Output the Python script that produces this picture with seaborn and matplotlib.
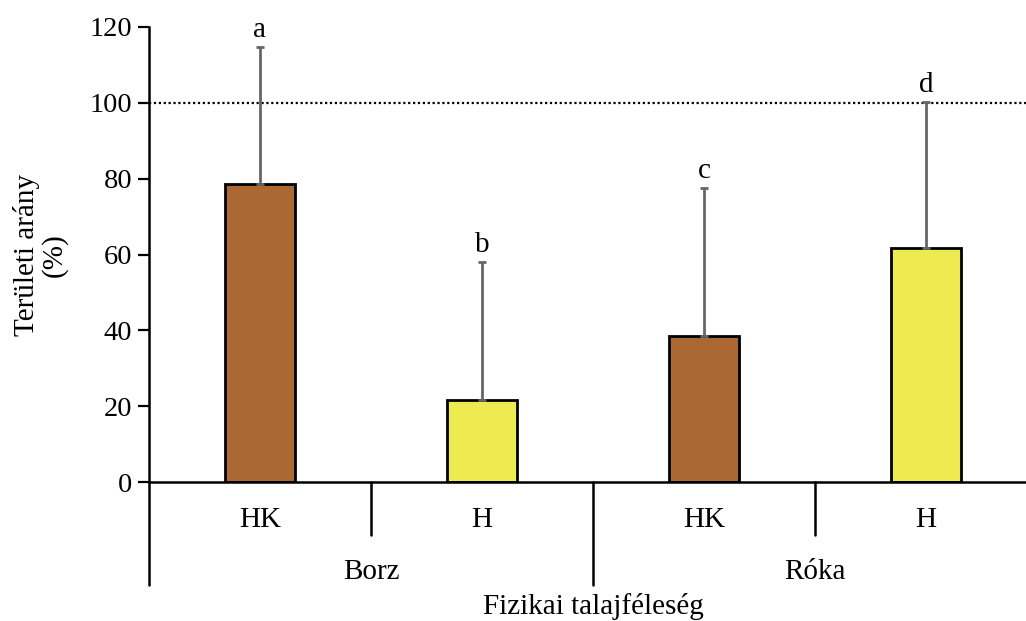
import pandas as pd
import seaborn as sns
import matplotlib.pyplot as plt
import matplotlib.transforms as mtransforms
from matplotlib.lines import Line2D

# data
animals = ["Borz", "Borz", "Róka", "Róka"]
soils = ["HK", "H", "HK", "H"]
means = [78.5, 21.6, 38.5, 61.7]
sd_upper = [36.3, 36.4, 39.1, 38.6]
letters = ["a", "b", "c", "d"]
colors = {"HK": "#AB6833", "H": "#EDEB4F"}

sns.set_theme(style="white")
plt.rcParams['font.family'] = ['Liberation Serif', 'DejaVu Serif']
plt.rcParams['text.color'] = 'black'

df = pd.DataFrame({"animal": animals, "soil": soils, "value": means})
df["cat"] = [f"{a} {s}" for a, s in zip(animals, soils)]

fig = plt.figure(figsize=(10.26, 6.21), dpi=100)
ax = fig.add_axes([149 / 1026, 139 / 621, 888 / 1026, 455 / 621])

sns.barplot(data=df, x="cat", y="value", hue="soil", palette=colors,
            width=0.315, dodge=False, saturation=1, edgecolor="black",
            linewidth=2, legend=False, ax=ax)

xs = range(len(means))
ax.errorbar(xs, means, yerr=[[0] * len(means), sd_upper], fmt="none",
            ecolor="#666666", elinewidth=2, capsize=3, capthick=2, zorder=1)
for x, m, e, lab in zip(xs, means, sd_upper, letters):
    ax.annotate(lab, (x, m + e), xytext=(0, 3), textcoords="offset points",
                ha="center", va="bottom", fontsize=21)

ax.axhline(100, color="black", lw=1.6, ls=(0, (1, 1.2)), zorder=0)

ax.set_xlim(-0.5, 3.5)
ax.set_ylim(0, 120)
ax.set_yticks(range(0, 121, 20))
ax.tick_params(axis="y", labelsize=20.5, length=8, width=1.6, direction="out",
               left=True, pad=4, colors="black")
ax.set_xticks([])
ax.set_xlabel("")
ax.set_ylabel("")
for s in ["top", "right"]:
    ax.spines[s].set_visible(False)
for s in ["left", "bottom"]:
    ax.spines[s].set_color("black")
    ax.spines[s].set_linewidth(1.8)

# two-level category axis
tr = mtransforms.blended_transform_factory(ax.transData, fig.transFigure)
for x, s in zip(xs, soils):
    ax.text(x, 1 - 520 / 621, s, transform=tr, ha="center", va="center", fontsize=21)
for x, a in zip([0.5, 2.5], ["Borz", "Róka"]):
    ax.text(x, 1 - 572 / 621, a, transform=tr, ha="center", va="center", fontsize=21)
for x, ybot in [(-0.5, 1 - 585 / 621), (0.5, 1 - 535 / 621),
                (1.5, 1 - 585 / 621), (2.5, 1 - 535 / 621)]:
    ax.add_line(Line2D([x, x], [139 / 621, ybot], transform=tr, color="black",
                       lw=1.8, clip_on=False))

fig.text(593 / 1026, 1 / 621, "Fizikai talajféleség", ha="center",
         va="bottom", fontsize=21)
fig.text(40 / 1026, 1 - 255 / 621, "Területi arány\n(%)", rotation=90,
         ha="center", va="center", fontsize=21, linespacing=1.05)

fig.savefig("out.png", dpi=100)
